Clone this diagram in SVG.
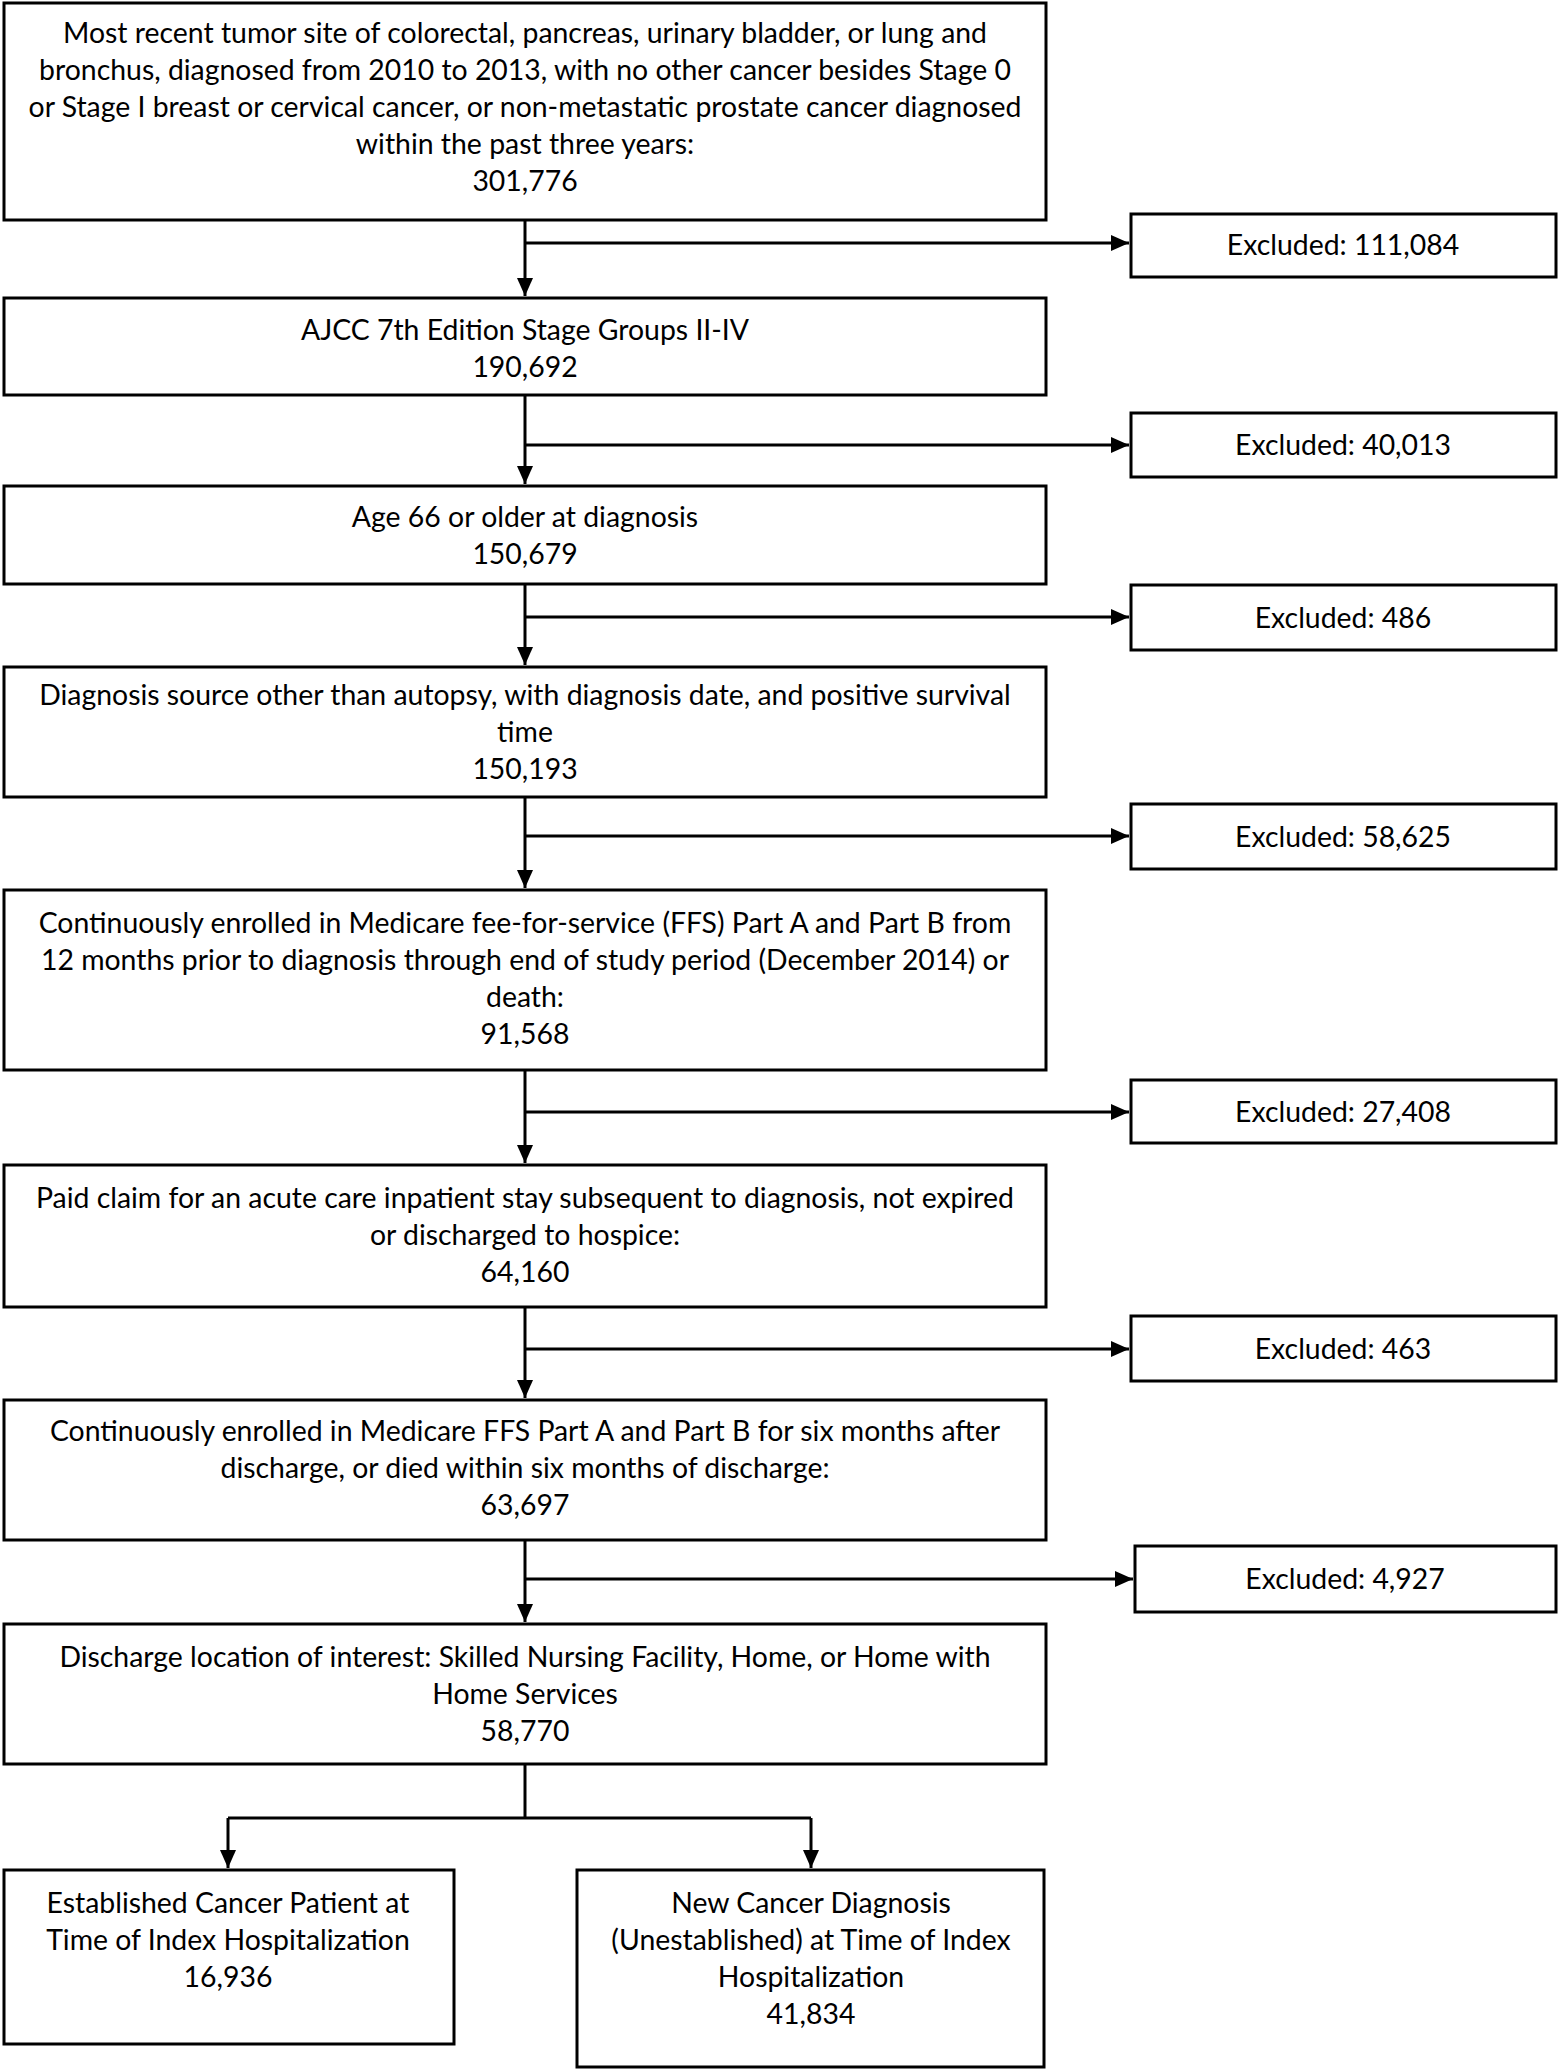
<svg xmlns="http://www.w3.org/2000/svg" width="1562" height="2070" viewBox="0 0 1562 2070">
<style>
.box{fill:#fff;stroke:#000;stroke-width:3}
.t{font-family:Lato,"Liberation Sans",sans-serif;font-size:28.4px;fill:#000;text-anchor:middle}
.c{fill:none;stroke:#000;stroke-width:3}
</style>
<defs>
<marker id="ah" markerUnits="userSpaceOnUse" markerWidth="20" markerHeight="18" refX="18" refY="8" orient="auto">
<path d="M0,0 L18,8 L0,16 z" fill="#000"/>
</marker>
</defs>
<rect width="1562" height="2070" fill="#fff"/>
<g id="connectors">
<path class="c" d="M525,220 V296" marker-end="url(#ah)"/>
<path class="c" d="M525,243 H1129" marker-end="url(#ah)"/>
<path class="c" d="M525,395 V484" marker-end="url(#ah)"/>
<path class="c" d="M525,445 H1129" marker-end="url(#ah)"/>
<path class="c" d="M525,584 V665" marker-end="url(#ah)"/>
<path class="c" d="M525,617 H1129" marker-end="url(#ah)"/>
<path class="c" d="M525,797 V888" marker-end="url(#ah)"/>
<path class="c" d="M525,836 H1129" marker-end="url(#ah)"/>
<path class="c" d="M525,1070 V1163" marker-end="url(#ah)"/>
<path class="c" d="M525,1112 H1129" marker-end="url(#ah)"/>
<path class="c" d="M525,1307 V1398" marker-end="url(#ah)"/>
<path class="c" d="M525,1349 H1129" marker-end="url(#ah)"/>
<path class="c" d="M525,1540 V1622" marker-end="url(#ah)"/>
<path class="c" d="M525,1579 H1133" marker-end="url(#ah)"/>
<path class="c" d="M525,1764 V1818"/>
<path class="c" d="M228,1818 H811"/>
<path class="c" d="M228,1818 V1868" marker-end="url(#ah)"/>
<path class="c" d="M811,1818 V1868" marker-end="url(#ah)"/>
</g>
<g id="n1"><rect class="box" x="4" y="3" width="1042" height="217"/>
<text class="t" x="525" y="43">Most recent tumor site of colorectal, pancreas, urinary bladder, or lung and</text>
<text class="t" x="525" y="80">bronchus, diagnosed from 2010 to 2013, with no other cancer besides Stage 0</text>
<text class="t" x="525" y="117">or Stage I breast or cervical cancer, or non-metastatic prostate cancer diagnosed</text>
<text class="t" x="525" y="154">within the past three years:</text>
<text class="t" x="525" y="191">301,776</text></g>
<g id="e1"><rect class="box" x="1131" y="214" width="425" height="63"/>
<text class="t" x="1343" y="255">Excluded: 111,084</text></g>
<g id="n2"><rect class="box" x="4" y="298" width="1042" height="97"/>
<text class="t" x="525" y="340">AJCC 7th Edition Stage Groups II-IV</text>
<text class="t" x="525" y="377">190,692</text></g>
<g id="e2"><rect class="box" x="1131" y="413" width="425" height="64"/>
<text class="t" x="1343" y="455">Excluded: 40,013</text></g>
<g id="n3"><rect class="box" x="4" y="486" width="1042" height="98"/>
<text class="t" x="525" y="527">Age 66 or older at diagnosis</text>
<text class="t" x="525" y="564">150,679</text></g>
<g id="e3"><rect class="box" x="1131" y="585" width="425" height="65"/>
<text class="t" x="1343" y="628">Excluded: 486</text></g>
<g id="n4"><rect class="box" x="4" y="667" width="1042" height="130"/>
<text class="t" x="525" y="705">Diagnosis source other than autopsy, with diagnosis date, and positive survival</text>
<text class="t" x="525" y="742">time</text>
<text class="t" x="525" y="779">150,193</text></g>
<g id="e4"><rect class="box" x="1131" y="804" width="425" height="65"/>
<text class="t" x="1343" y="847">Excluded: 58,625</text></g>
<g id="n5"><rect class="box" x="4" y="890" width="1042" height="180"/>
<text class="t" x="525" y="933">Continuously enrolled in Medicare fee-for-service (FFS) Part A and Part B from</text>
<text class="t" x="525" y="970">12 months prior to diagnosis through end of study period (December 2014) or</text>
<text class="t" x="525" y="1007">death:</text>
<text class="t" x="525" y="1044">91,568</text></g>
<g id="e5"><rect class="box" x="1131" y="1080" width="425" height="63"/>
<text class="t" x="1343" y="1122">Excluded: 27,408</text></g>
<g id="n6"><rect class="box" x="4" y="1165" width="1042" height="142"/>
<text class="t" x="525" y="1208">Paid claim for an acute care inpatient stay subsequent to diagnosis, not expired</text>
<text class="t" x="525" y="1245">or discharged to hospice:</text>
<text class="t" x="525" y="1282">64,160</text></g>
<g id="e6"><rect class="box" x="1131" y="1316" width="425" height="65"/>
<text class="t" x="1343" y="1359">Excluded: 463</text></g>
<g id="n7"><rect class="box" x="4" y="1400" width="1042" height="140"/>
<text class="t" x="525" y="1441">Continuously enrolled in Medicare FFS Part A and Part B for six months after</text>
<text class="t" x="525" y="1478">discharge, or died within six months of discharge:</text>
<text class="t" x="525" y="1515">63,697</text></g>
<g id="e7"><rect class="box" x="1135" y="1546" width="421" height="66"/>
<text class="t" x="1345" y="1589">Excluded: 4,927</text></g>
<g id="n8"><rect class="box" x="4" y="1624" width="1042" height="140"/>
<text class="t" x="525" y="1667">Discharge location of interest: Skilled Nursing Facility, Home, or Home with</text>
<text class="t" x="525" y="1704">Home Services</text>
<text class="t" x="525" y="1741">58,770</text></g>
<g id="n9"><rect class="box" x="4" y="1870" width="450" height="174"/>
<text class="t" x="228" y="1913">Established Cancer Patient at</text>
<text class="t" x="228" y="1950">Time of Index Hospitalization</text>
<text class="t" x="228" y="1987">16,936</text></g>
<g id="n10"><rect class="box" x="577" y="1870" width="467" height="197"/>
<text class="t" x="811" y="1913">New Cancer Diagnosis</text>
<text class="t" x="811" y="1950">(Unestablished) at Time of Index</text>
<text class="t" x="811" y="1987">Hospitalization</text>
<text class="t" x="811" y="2024">41,834</text></g>
</svg>
